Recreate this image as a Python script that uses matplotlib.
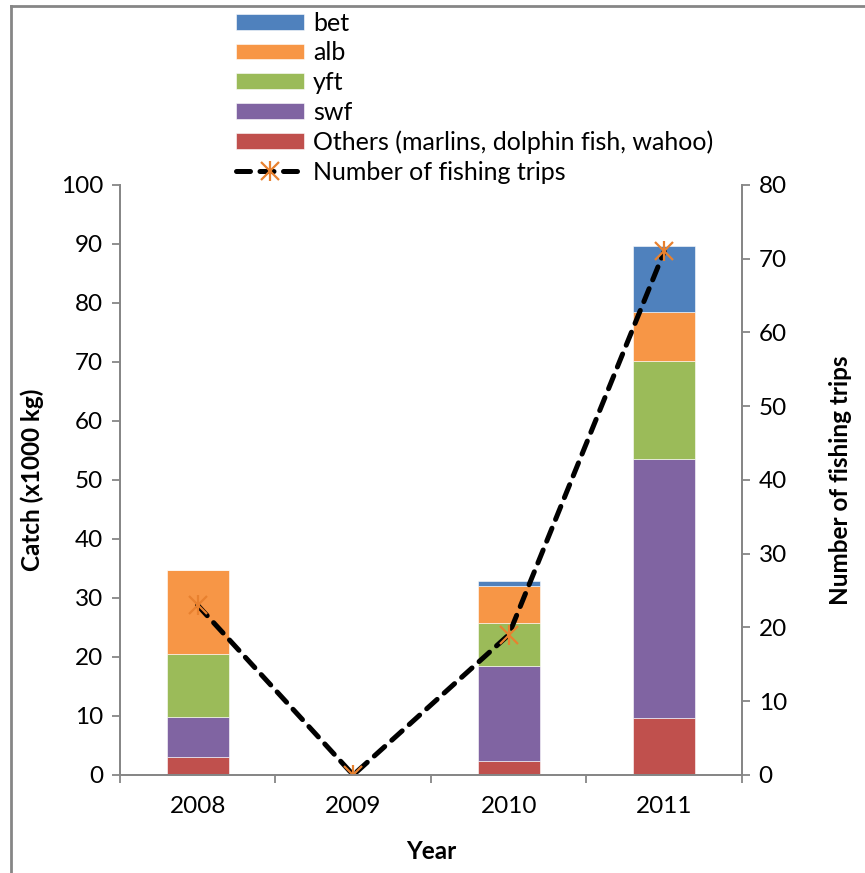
import numpy as np
import matplotlib
matplotlib.use('Agg')
import matplotlib.pyplot as plt
from matplotlib.lines import Line2D

plt.rcParams['font.family'] = ['Lato', 'DejaVu Sans']

years = ['2008', '2009', '2010', '2011']
others = [3.0, 0.0, 2.4, 9.6]
swf = [6.9, 0.0, 16.1, 44.0]
yft = [10.6, 0.0, 7.3, 16.6]
alb = [14.3, 0.0, 6.2, 8.3]
bet = [0.0, 0.0, 0.9, 11.2]
trips = [23, 0, 19, 71]

series = [('Others (marlins, dolphin fish, wahoo)', others, '#C0504D'),
          ('swf', swf, '#8064A2'),
          ('yft', yft, '#9BBB59'),
          ('alb', alb, '#F79646'),
          ('bet', bet, '#4F81BD')]

fig = plt.figure(figsize=(8.65, 8.73), dpi=100)
ax = fig.add_axes([0.1387, 0.1123, 0.7191, 0.6758])
x = np.arange(len(years))

handles = {}
bottom = np.zeros(len(years))
for name, vals, col in series:
    b = ax.bar(x, vals, 0.4, bottom=bottom, color=col, edgecolor='white', linewidth=0.4, label=name)
    handles[name] = b
    bottom += np.array(vals)

ax.set_xlim(-0.5, 3.5)
ax.set_ylim(0, 100)
ax.set_yticks(np.arange(0, 101, 10))
ax.set_xticks(x)
ax.set_xticklabels(years)
ax.set_xticks(np.arange(-0.5, 3.6, 1), minor=True)
ax.tick_params(axis='x', which='major', length=0, labelsize=17.5, pad=15)
ax.tick_params(axis='x', which='minor', length=6, direction='out', color='#868686', width=1.3)
ax.tick_params(axis='y', length=6, direction='out', color='#868686', width=1.3, labelsize=17.5, pad=6)
ax.spines['top'].set_visible(False)
for s in ['left', 'bottom', 'right']:
    ax.spines[s].set_color('#868686')
    ax.spines[s].set_linewidth(1.3)
ax.set_ylabel('Catch (x1000 kg)', fontsize=17.5, fontweight='bold', labelpad=12)
ax.set_xlabel('Year', fontsize=17.5, fontweight='bold', labelpad=17)

ax2 = ax.twinx()
ax2.set_ylim(0, 80)
ax2.set_yticks(np.arange(0, 81, 10))
ax2.tick_params(axis='y', length=6, direction='out', color='#868686', width=1.3, labelsize=17.5, pad=6)
ax2.spines['top'].set_visible(False)
for s in ['left', 'bottom', 'right']:
    ax2.spines[s].set_color('#868686')
    ax2.spines[s].set_linewidth(1.3)
ax2.set_ylabel('Number of fishing trips', fontsize=17.5, fontweight='bold', labelpad=30)

ln, = ax2.plot(x, trips, color='black', linewidth=3.6, linestyle=(0, (2.8, 1.9)),
               dash_capstyle='round', marker='x', markersize=13, markeredgewidth=1.6,
               markeredgecolor='#E8812F')
vb, = ax2.plot(x, trips, linestyle='none', marker='|', markersize=15, markeredgewidth=1.6,
               markeredgecolor='#E8812F')

order = ['bet', 'alb', 'yft', 'swf', 'Others (marlins, dolphin fish, wahoo)']
leg_h = [handles[n] for n in order] + [(ln, vb)]
leg_l = order + ['Number of fishing trips']
fig.legend(leg_h, leg_l, loc='upper left', bbox_to_anchor=(0.255, 1.004), frameon=False,
           fontsize=18, handlelength=2.75, handleheight=0.6, labelspacing=0.27,
           handletextpad=0.35, borderpad=0.1)

# border of the original screenshot
fig.add_artist(Line2D([0.013, 1.0], [0.9935, 0.9935], color='#868686', linewidth=2, transform=fig.transFigure))
fig.add_artist(Line2D([0.013, 0.013], [0.0, 0.9935], color='#868686', linewidth=2, transform=fig.transFigure))

fig.savefig('out.png', dpi=100)
